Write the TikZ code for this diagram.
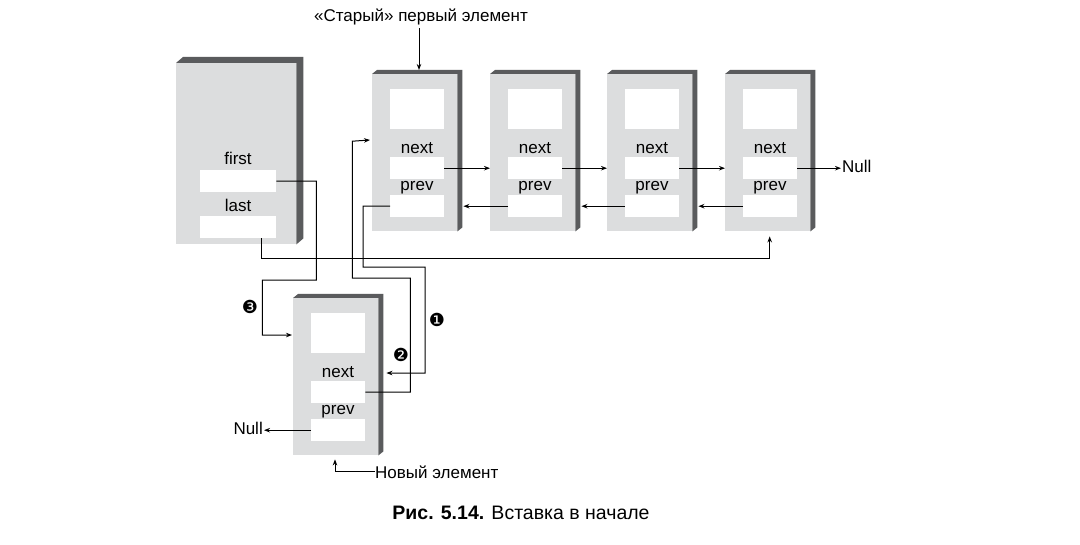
\documentclass[tikz,border=0pt]{standalone}
\usepackage{fontspec}
\setmainfont{Liberation Sans}
\newfontfamily\dvfont{DejaVu Sans}
\usetikzlibrary{calc,arrows.meta}
\definecolor{facegray}{HTML}{DCDDDE}
\definecolor{shadegray}{HTML}{5A5B5D}
\tikzset{
  front/.style={fill=facegray, draw=none, inner sep=0, minimum width=85pt, minimum height=157pt},
  shadeface/.style={fill=shadegray},
  field/.style={fill=white, draw=none, inner sep=0, minimum width=54pt, minimum height=22pt},
  lbl/.style={font=\fontsize{17}{20}\selectfont, inner sep=0},
  num/.style={font=\dvfont\fontsize{18}{20}\selectfont, inner sep=0},
  conn/.style={line width=1pt},
  arr/.style={line width=1pt, -{Stealth[length=6pt,width=4.5pt]}}
}
\newcommand\ListElem[3]{%
  \node[front, anchor=north west] (#1) at (#2,#3) {};
  \fill[shadeface] (#1.north west) -- ++(5,-4) -- ([shift={(5,-4)}]#1.north east)
     -- ([shift={(5,-4)}]#1.south east) -- (#1.south east) -- (#1.north east) -- cycle;
  \node[field, minimum height=40pt, anchor=north west] (#1d) at ([shift={(18,15)}]#1.north west) {};
  \node[field, anchor=north west] (#1n) at ([shift={(18,83)}]#1.north west) {};
  \node[field, anchor=north west] (#1p) at ([shift={(18,121)}]#1.north west) {};
  \node[lbl, anchor=base] (#1nl) at ([shift={(45,80)}]#1.north west) {next};
  \node[lbl, anchor=base] (#1pl) at ([shift={(45,117)}]#1.north west) {prev};
}
\begin{document}
\begin{tikzpicture}[x=1pt,y=-1pt]
\useasboundingbox (0,0) rectangle (1080,545);
\fill[white] (0,0) rectangle (1080,545);

% header
\node[front, minimum width=120pt, minimum height=181pt, anchor=north west] (hdr) at (176,63) {};
\fill[shadeface] (hdr.north west) -- ++(7,-6) -- ([shift={(7,-6)}]hdr.north east)
   -- ([shift={(7,-6)}]hdr.south east) -- (hdr.south east) -- (hdr.north east) -- cycle;
\node[field, minimum width=76pt, anchor=north west] (hf) at (200,170) {};
\node[field, minimum width=76pt, anchor=north west] (hl) at (200,216) {};
\node[lbl, anchor=base] (hfl) at (238,165) {first};
\node[lbl, anchor=base] (hll) at (238,212) {last};

% list elements
\ListElem{n1}{372}{74}
\ListElem{n2}{490}{74}
\ListElem{n3}{607}{74}
\ListElem{n4}{725}{74}
\ListElem{nw}{293}{298}

% labels
\node[lbl] (old) at (421,17) {«Старый» первый элемент};
\node[lbl, anchor=west] (newlbl) at (375,472) {Новый элемент};
\node[lbl, anchor=west, inner sep=1pt] (nullR) at (841,166) {Null};
\node[lbl, anchor=east, inner sep=1pt] (nullL) at (264,428) {Null};
\node[font=\fontsize{19.5}{23}\selectfont, inner sep=0] (cap) at (521,513) {\textbf{Рис. 5.14.} Вставка в начале};
\node[num] (c1) at (437,320) {❶};
\node[num] (c2) at (401,355) {❷};
\node[num] (c3) at (250,307) {❸};

% next / prev links
\draw[arr] (n1n.east) -- (n1n.east -| n2.west);
\draw[arr] (n2n.east) -- (n2n.east -| n3.west);
\draw[arr] (n3n.east) -- (n3n.east -| n4.west);
\draw[arr] (n4n.east) -- (n4n.east -| nullR.west);
\draw[arr] (n2p.west) -- ([xshift=6pt]n2p.west -| n1.east);
\draw[arr] (n3p.west) -- ([xshift=6pt]n3p.west -| n2.east);
\draw[arr] (n4p.west) -- ([xshift=6pt]n4p.west -| n3.east);
\draw[arr] (nwp.west) -- (nwp.west -| nullL.east);

% old first pointer
\coordinate (oldtip) at ($(n1.north west)+(47,-4)$);
\draw[arr] (old.south -| oldtip) ++(0,3) -- (oldtip);
% new element pointer
\coordinate (newtip) at ($(nw.south west)+(42,4)$);
\draw[arr] (newlbl.west) -| (newtip);

% first -> new (3)
\draw[arr] (hf.east) -| ++(40,99) -| ++(-54,55) -- ($(nw.north west)+(-1,37)$);
% last -> n4
\draw[arr] ([xshift=-15pt]hl.south east) -- ++(0,20) -| ($(n4.south)+(2,5)$);
% (1) n1.prev -> new
\draw[arr] (n1p.west) -| ++(-27,61) -| ++(62,106) -- ($(nw.north east)+(8,75)$);
% (2) new.next -> n1
\draw[arr] (nwn.east) -| ++(45,-114) -| ++(-58,-137) -- ($(n1.north west)+(-2,66)$);
\end{tikzpicture}
\end{document}
